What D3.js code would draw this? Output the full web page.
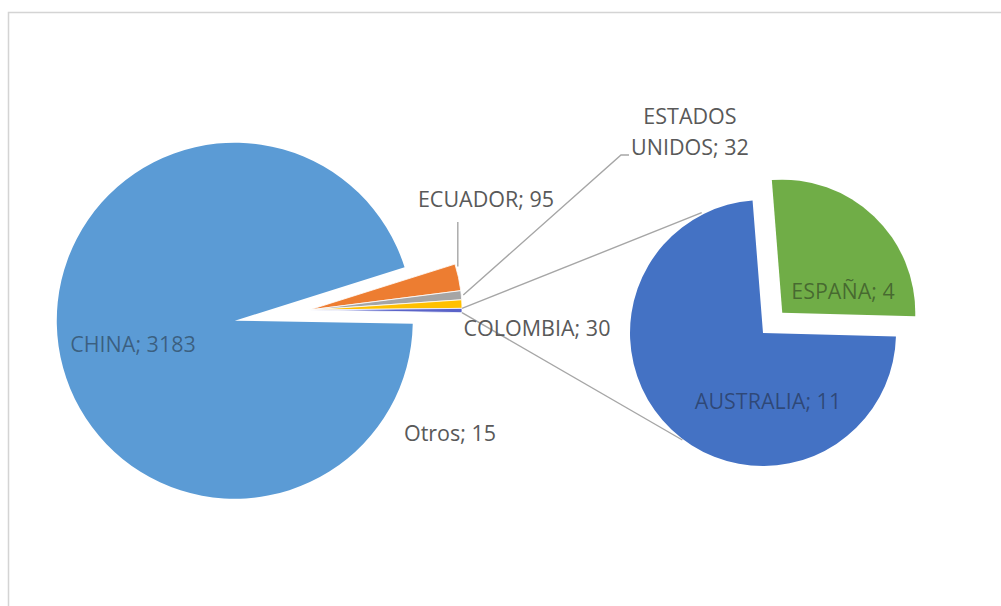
<!DOCTYPE html>
<html>
<head>
  <meta charset="utf-8">
  <title>Pie of pie</title>
  <script src="https://d3js.org/d3.v7.min.js"></script>
  <style>
    body { margin: 0; background: #fff; }
    text { font-family: "Open Sans", sans-serif; font-size: 21.5px; }
  </style>
</head>
<body>
  <div id="chart"></div>
  <script>
    // main pie data (Otros = second pie total)
    var mainNames = ["CHINA", "ECUADOR", "ESTADOS UNIDOS", "COLOMBIA", "Otros"];
    var mainValues = [3183, 95, 32, 30, 15];
    var mainColors = ["#5B9BD5", "#ED7D31", "#A5A5A5", "#FFC000", "#5A63C8"];

    // second pie
    var subNames = ["ESPAÑA", "AUSTRALIA"];
    var subValues = [4, 11];
    var subColors = ["#70AD47", "#4472C4"];

    var width = 1001, height = 606;
    var deg = Math.PI / 180;

    var svg = d3.select("#chart")
      .append("svg")
      .attr("width", width)
      .attr("height", height);

    // chart area frame
    svg.append("rect")
      .attr("x", 8.5).attr("y", 12.5)
      .attr("width", 1000).attr("height", 600)
      .attr("fill", "#fff")
      .attr("stroke", "#d4d4d4")
      .attr("stroke-width", 1.5);

    function pt(c, a, r) {
      return [c[0] + r * Math.sin(a), c[1] - r * Math.cos(a)];
    }

    // ---- first pie ----
    var c1 = [309, 310];
    var r1 = 153;
    var chinaR = 178, chinaExplode = 75;

    var mainData = mainNames.map((n, i) => ({name: n, value: mainValues[i], color: mainColors[i]}));
    var pie1 = d3.pie().sort(null).value(d => d.value)
      .startAngle(91 * deg).endAngle(451 * deg);
    var arcs1 = pie1(mainData);

    var smallArc = d3.arc().innerRadius(0).outerRadius(r1);
    var bigArc = d3.arc().innerRadius(0).outerRadius(chinaR);

    var g1 = svg.append("g");
    arcs1.forEach(function(d, i) {
      if (i === 0) {
        var mid = (d.startAngle + d.endAngle) / 2;
        var c = pt(c1, mid, chinaExplode);
        g1.append("path")
          .attr("transform", "translate(" + c[0] + "," + c[1] + ")")
          .attr("d", bigArc(d))
          .attr("fill", d.data.color);
      } else {
        g1.append("path")
          .attr("transform", "translate(" + c1[0] + "," + c1[1] + ")")
          .attr("d", smallArc(d))
          .attr("fill", d.data.color)
          .attr("stroke", "#fff")
          .attr("stroke-width", 0.8);
      }
    });

    // ---- second pie ----
    var c2 = [763, 333];
    var r2 = 133;
    var subExplode = 28;
    var subData = subNames.map((n, i) => ({name: n, value: subValues[i], color: subColors[i]}));
    var pie2 = d3.pie().sort(null).value(d => d.value)
      .startAngle(-4.5 * deg).endAngle(355.5 * deg);
    var arcs2 = pie2(subData);
    var arc2 = d3.arc().innerRadius(0).outerRadius(r2);

    arcs2.forEach(function(d, i) {
      var mid = (d.startAngle + d.endAngle) / 2;
      var c = i === 0 ? pt(c2, mid, subExplode) : c2;
      svg.append("path")
        .attr("transform", "translate(" + c[0] + "," + c[1] + ")")
        .attr("d", arc2(d))
        .attr("fill", d.data.color);
    });

    // ---- connector lines (Otros -> second pie) ----
    var otros = arcs1[4];
    var line = d3.line();
    var lineColor = "#A6A6A6";
    svg.append("path")
      .attr("d", line([pt(c1, otros.startAngle, r1), pt(c2, -27 * deg, r2 + 2)]))
      .attr("stroke", lineColor).attr("stroke-width", 1.4).attr("fill", "none");
    svg.append("path")
      .attr("d", line([pt(c1, otros.endAngle, r1), pt(c2, 217 * deg, r2 + 1)]))
      .attr("stroke", lineColor).attr("stroke-width", 1.4).attr("fill", "none");

    // ---- leader lines ----
    var ecu = arcs1[1], usa = arcs1[2];
    var pE = pt(c1, ecu.startAngle + 1.2 * deg, r1 + 2);
    svg.append("path")
      .attr("d", line([pE, [pE[0], 222]]))
      .attr("stroke", lineColor).attr("stroke-width", 1.4).attr("fill", "none");
    var pU = pt(c1, (usa.startAngle + usa.endAngle) / 2, r1 + 2);
    svg.append("path")
      .attr("d", line([pU, [621, 155], [629, 155]]))
      .attr("stroke", lineColor).attr("stroke-width", 1.4).attr("fill", "none");

    // ---- labels ----
    var outColor = "#595959";
    var inColor = "rgba(20,20,20,0.45)";
    var labels = [
      {lines: [mainNames[0] + "; " + mainValues[0]], x: 133, y: 352, fill: inColor},
      {lines: [mainNames[1] + "; " + mainValues[1]], x: 486, y: 207, fill: outColor},
      {lines: ["ESTADOS", "UNIDOS; " + mainValues[2]], x: 690, y: 124, fill: outColor},
      {lines: [mainNames[3] + "; " + mainValues[3]], x: 537, y: 336, fill: outColor},
      {lines: [mainNames[4] + "; " + mainValues[4]], x: 450, y: 441, fill: outColor},
      {lines: [subNames[1] + "; " + subValues[1]], x: 768, y: 409, fill: inColor},
      {lines: [subNames[0] + "; " + subValues[0]], x: 843, y: 299, fill: inColor}
    ];
    labels.forEach(function(l) {
      var t = svg.append("text")
        .attr("text-anchor", "middle")
        .attr("fill", l.fill);
      l.lines.forEach(function(s, j) {
        t.append("tspan").attr("x", l.x).attr("y", l.y + j * 31).text(s);
      });
    });
  </script>
</body>
</html>
